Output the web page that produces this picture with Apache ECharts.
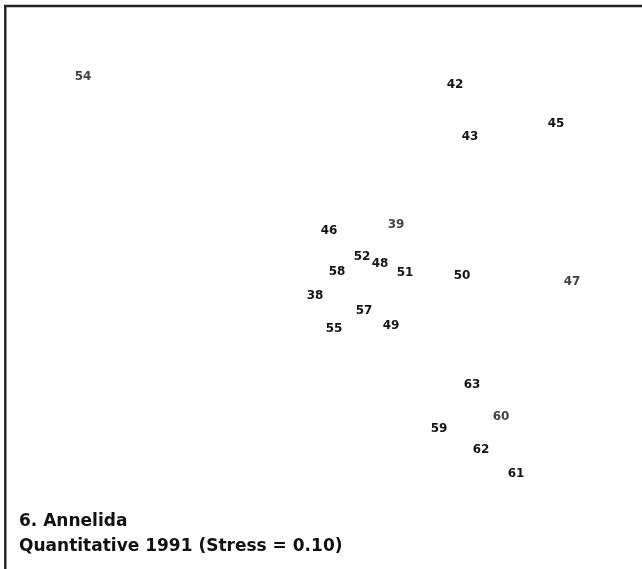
<!DOCTYPE html>
<html>
<head>
<meta charset="utf-8">
<script src="https://cdn.jsdelivr.net/npm/echarts@6/dist/echarts.min.js"></script>
<style>
  html, body { margin: 0; padding: 0; background: #fff; }
  #chart { width: 642px; height: 569px; }
</style>
</head>
<body>
<div id="chart"></div>
<script>
// Station labels and their MDS ordination coordinates (dimension 1, dimension 2)
const stations = ['54', '42', '43', '45', '46', '39', '52', '48', '58', '51', '50',
                  '47', '38', '57', '55', '49', '63', '60', '59', '62', '61'];
const dim1 = [-3.17, 0.55, 0.70, 1.56, -0.71, -0.04, -0.38, -0.20, -0.63, 0.05, 0.62,
              1.72, -0.85, -0.36, -0.66, -0.09, 0.72, 1.01, 0.39, 0.81, 1.16];
const dim2 = [2.24, 2.16, 1.64, 1.77, 0.70, 0.76, 0.44, 0.37, 0.29, 0.28, 0.25,
              0.19, 0.05, -0.10, -0.28, -0.25, -0.84, -1.16, -1.28, -1.49, -1.73];
// Labels printed in a slightly lighter grey
const faded = ['54', '39', '47', '60'];

const panelTitle = '6. Annelida';
const panelSubtitle = 'Quantitative 1991 (Stress = 0.10)';

const points = stations.map((s, i) => ({
  name: s,
  value: [dim1[i], dim2[i]],
  label: { color: faded.includes(s) ? '#444444' : '#141414' }
}));

const chart = echarts.init(document.getElementById('chart'), null, { renderer: 'canvas' });

chart.setOption({
  animation: false,
  backgroundColor: '#ffffff',
  grid: { left: 0, top: 0, width: 642, height: 569, containLabel: false },
  xAxis: { type: 'value', min: -4.00, max: 2.42, show: false },
  yAxis: { type: 'value', min: -2.69, max: 3.00, show: false },
  series: [{
    type: 'scatter',
    symbolSize: 0,
    itemStyle: { opacity: 1 },
    data: points,
    label: {
      show: true,
      position: 'inside',
      offset: [0, 1],
      formatter: p => p.name,
      fontFamily: 'DejaVu Sans',
      fontWeight: 'bold',
      fontSize: 12
    }
  }],
  graphic: [
    { type: 'line', shape: { x1: 4, y1: 6, x2: 642, y2: 6 },
      style: { stroke: '#222', lineWidth: 2.4 } },
    { type: 'line', shape: { x1: 5.3, y1: 5, x2: 5.3, y2: 569 },
      style: { stroke: '#222', lineWidth: 2.4 } },
    { type: 'text', left: 19, top: 513,
      style: { text: panelTitle, font: 'bold 17px "DejaVu Sans"', fill: '#111' } },
    { type: 'text', left: 19, top: 538,
      style: { text: panelSubtitle, font: 'bold 17px "DejaVu Sans"', fill: '#111' } }
  ]
});
</script>
</body>
</html>
